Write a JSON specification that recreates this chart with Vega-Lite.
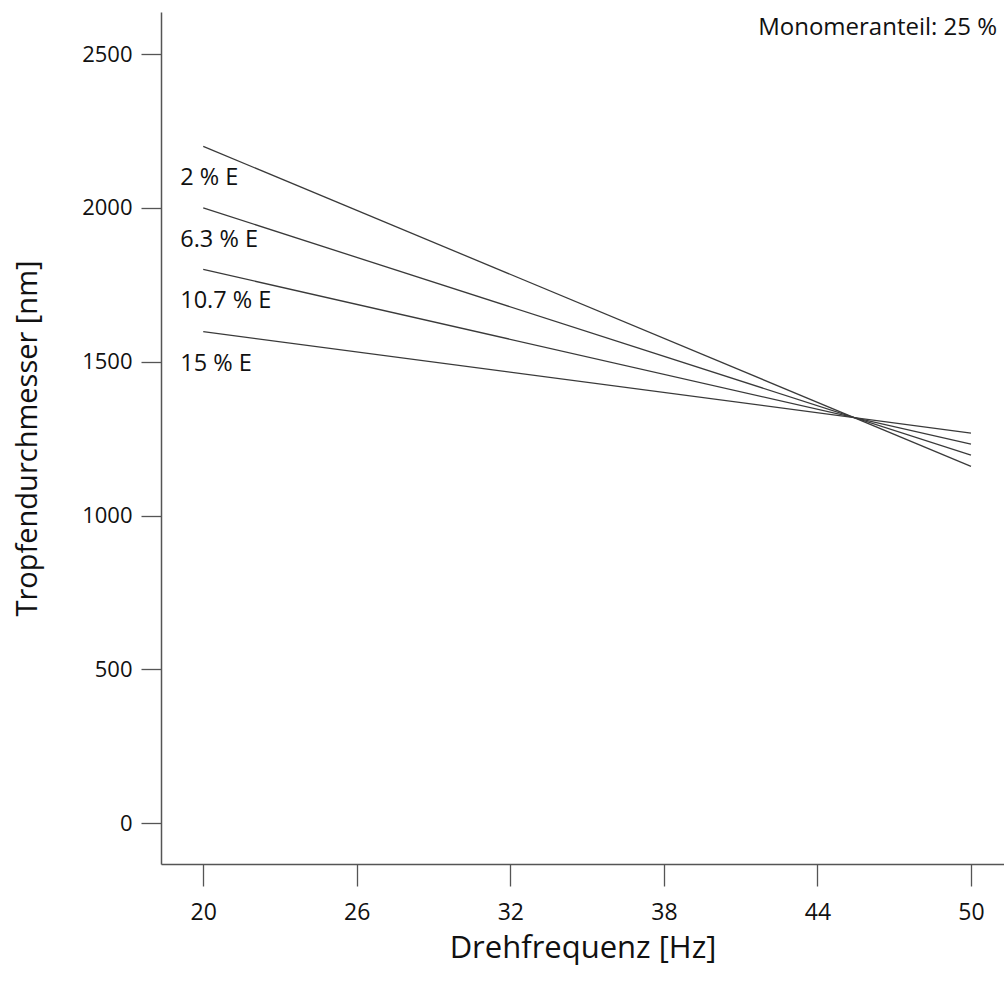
{
  "$schema": "https://vega.github.io/schema/vega-lite/v6.json",
  "autosize": {"type": "none"},
  "padding": {"left": 161, "top": 12, "right": 0, "bottom": 125},
  "width": 843,
  "height": 852,
  "background": "white",
  "config": {
    "view": {"stroke": null},
    "font": "Open Sans",
    "axis": {"grid": false, "domainColor": "#555", "domainWidth": 1.5, "tickColor": "#555", "tickWidth": 1.3, "labelColor": "#111", "titleColor": "#111", "labelFont": "Open Sans", "titleFont": "Open Sans", "titleFontWeight": "normal"}
  },
  "datasets": {
    "lines": [
      {"freq": 20, "d": 2200, "series": "2 % E"},
      {"freq": 50, "d": 1160, "series": "2 % E"},
      {"freq": 20, "d": 2000, "series": "6.3 % E"},
      {"freq": 50, "d": 1196, "series": "6.3 % E"},
      {"freq": 20, "d": 1800, "series": "10.7 % E"},
      {"freq": 50, "d": 1232, "series": "10.7 % E"},
      {"freq": 20, "d": 1598, "series": "15 % E"},
      {"freq": 50, "d": 1268, "series": "15 % E"}
    ]
  },
  "layer": [
    {
      "data": {"name": "lines"},
      "mark": {"type": "line", "color": "#3a3a3a", "strokeWidth": 1.3},
      "encoding": {
        "x": {"field": "freq", "type": "quantitative", "scale": {"domain": [18.35, 51.29], "nice": false, "zero": false},
          "axis": {"values": [20, 26, 32, 38, 44, 50], "format": "d", "tickSize": 22, "labelPadding": 15, "labelFontSize": 23, "title": "Drehfrequenz [Hz]", "titleFontSize": 31, "titlePadding": 9}},
        "y": {"field": "d", "type": "quantitative", "scale": {"domain": [-133, 2637], "nice": false, "zero": false},
          "axis": {"values": [0, 500, 1000, 1500, 2000, 2500], "format": "d", "tickSize": 20, "labelPadding": 9, "labelFontSize": 22, "title": "Tropfendurchmesser [nm]", "titleFontSize": 29, "titlePadding": 39}},
        "detail": {"field": "series"}
      }
    },
    {
      "data": {"name": "lines"},
      "transform": [{"filter": "datum.freq == 20"}],
      "mark": {"type": "text", "align": "left", "baseline": "middle", "dx": -23, "dy": 32, "fontSize": 23.5, "color": "#111"},
      "encoding": {
        "x": {"field": "freq", "type": "quantitative"},
        "y": {"field": "d", "type": "quantitative"},
        "text": {"field": "series"}
      }
    },
    {
      "data": {"values": [{"t": "Monomeranteil: 25 %", "fx": 51.02, "fy": 2586}]},
      "mark": {"type": "text", "align": "right", "baseline": "middle", "fontSize": 24, "color": "#111"},
      "encoding": {
        "x": {"field": "fx", "type": "quantitative"},
        "y": {"field": "fy", "type": "quantitative"},
        "text": {"field": "t"}
      }
    },
    {
      "mark": {"type": "rule", "color": "#555", "strokeWidth": 1.5},
      "encoding": {"y": {"datum": 2637}}
    }
  ]
}
